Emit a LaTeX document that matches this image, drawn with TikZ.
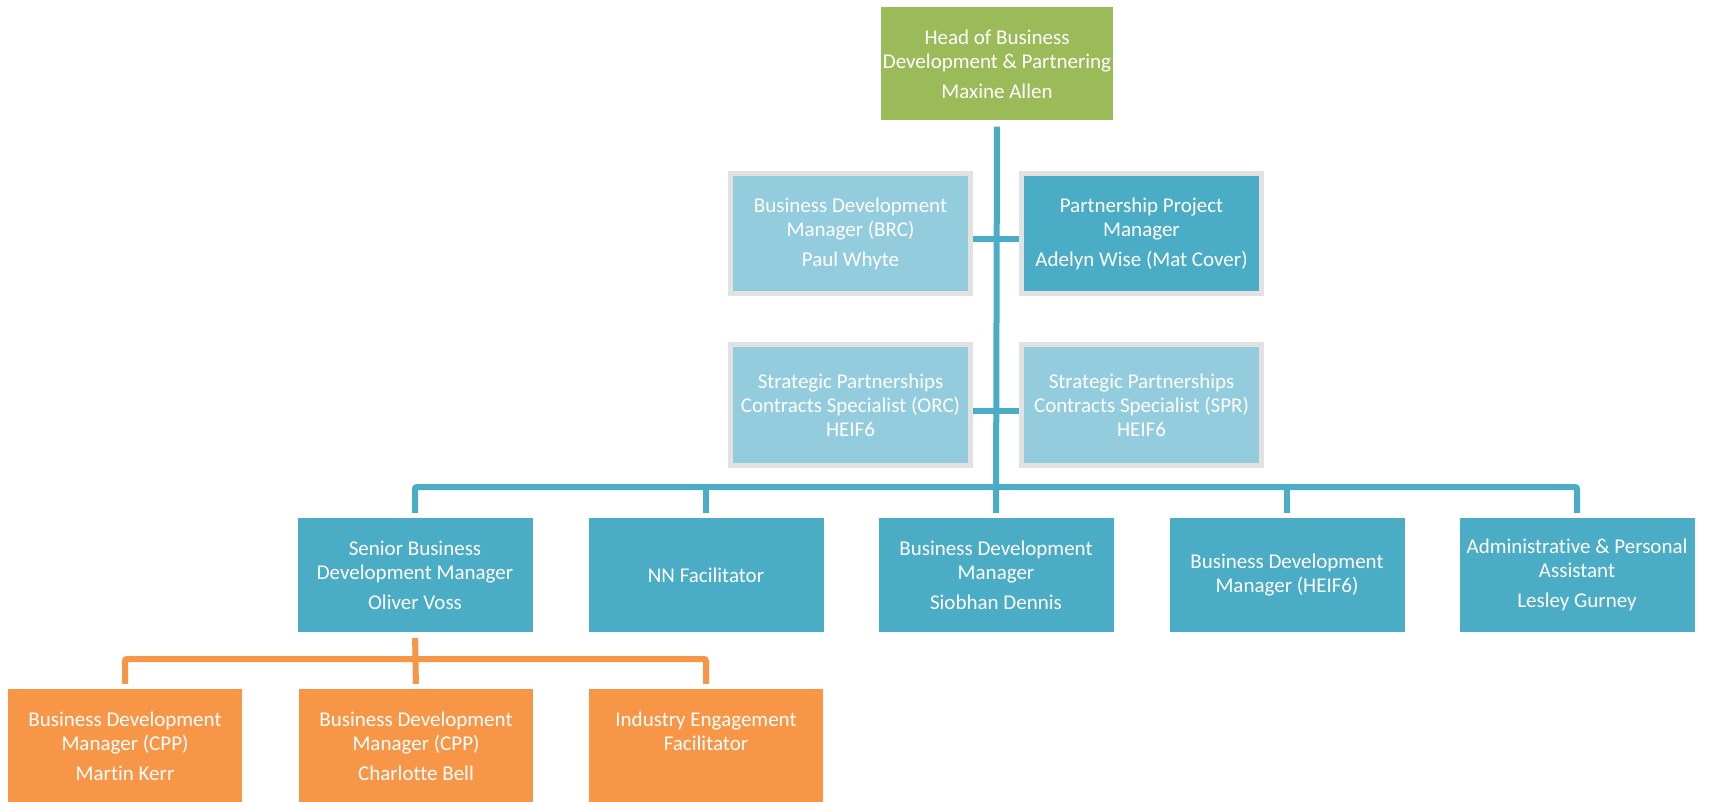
\documentclass[tikz,border=0pt]{standalone}
\usepackage{fontspec}
\setmainfont{Carlito}[Ligatures=NoCommon]
\definecolor{headgreen}{HTML}{9BBB59}
\definecolor{paleblue}{HTML}{93CDDD}
\definecolor{teamblue}{HTML}{4BACC6}
\definecolor{cppOrange}{HTML}{F79646}
\definecolor{rimgrey}{HTML}{E2E2E2}
\tikzset{
  post/.style={minimum width=235pt, minimum height=114pt, inner sep=2pt,
    align=center, text=white, font=\fontsize{21}{24}\selectfont},
  headpost/.style={post, fill=headgreen, minimum width=232pt, minimum height=113pt},
  teampost/.style={post, fill=teamblue},
  cpppost/.style={post, fill=cppOrange, minimum width=234pt},
  rimpost/.style={post, draw=rimgrey, line width=5pt, minimum width=240pt, minimum height=120pt},
  bluelink/.style={draw=teamblue, line width=6pt, rounded corners=2pt},
  orangelink/.style={draw=cppOrange, line width=6pt, rounded corners=2pt}
}
\begin{document}
\begin{tikzpicture}[x=1pt, y=-1pt]
  \useasboundingbox (0,0) rectangle (1709,802);
  % top
  \node[headpost] (head) at (997,64) {Head of Business\\Development \& Partnering\\[6pt]Maxine Allen};
  % advisers beside the trunk
  \node[rimpost, fill=paleblue] (brc) at (850.5,233.5) {Business Development\\Manager (BRC)\\[6pt]Paul Whyte};
  \node[rimpost, fill=teamblue] (ppm) at (1141.5,233.5) {Partnership Project\\Manager\\[6pt]Adelyn Wise (Mat Cover)};
  \node[rimpost, fill=paleblue] (orc) at (850.5,405) {Strategic Partnerships\\Contracts Specialist (ORC)\\HEIF6};
  \node[rimpost, fill=paleblue] (spr) at (1141.5,405) {Strategic Partnerships\\Contracts Specialist (SPR)\\HEIF6};
  % team row
  \node[teampost] (sbdm) at (415,575) {Senior Business\\Development Manager\\[6pt]Oliver Voss};
  \node[teampost] (nnf) at (706,575) {NN Facilitator};
  \node[teampost] (bdm) at (996,575) {Business Development\\Manager\\[6pt]Siobhan Dennis};
  \node[teampost] (heif) at (1287,575) {Business Development\\Manager (HEIF6)};
  \node[teampost] (admin) at (1577,575) {Administrative \& Personal\\Assistant\\[6pt]Lesley Gurney};
  % under the senior manager
  \node[cpppost] (cppa) at (125,746) {Business Development\\Manager (CPP)\\[6pt]Martin Kerr};
  \node[cpppost] (cppb) at (416,746) {Business Development\\Manager (CPP)\\[6pt]Charlotte Bell};
  \node[cpppost] (ief) at (706,746) {Industry Engagement\\Facilitator\\[6pt]~};

  \coordinate (bus) at (996,487);
  \coordinate (obus) at (416,659);
  \draw[bluelink, shorten <=6pt, shorten >=5pt] (head.south) -- (bdm.north);
  \draw[bluelink] ([yshift=-6pt]brc.east) -- ([yshift=-6pt]ppm.west);
  \draw[bluelink] ([yshift=-6pt]orc.east) -- ([yshift=-6pt]spr.west);
  \draw[bluelink, shorten <=5pt, shorten >=5pt] (sbdm.north) |- (bus) -| (admin.north);
  \foreach \n in {nnf,heif}
    \draw[bluelink, shorten <=5pt] (\n.north) -- (\n.north |- bus);
  \draw[orangelink, shorten <=5pt, shorten >=5pt] (cppa.north) |- (obus) -| (ief.north);
  \draw[orangelink, shorten <=6pt, shorten >=5pt] (sbdm.south) -- (cppb.north);
\end{tikzpicture}
\end{document}
